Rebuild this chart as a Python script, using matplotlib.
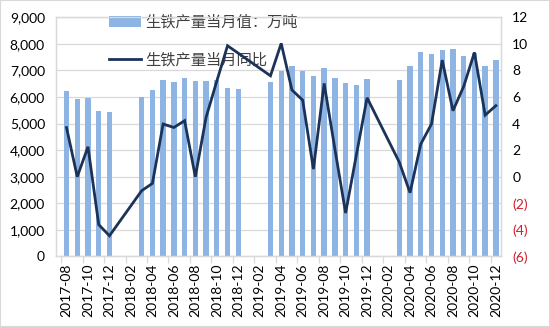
import numpy as np
import matplotlib.pyplot as plt
from matplotlib.patches import Rectangle

plt.rcParams['font.family'] = ['Lato', 'Noto Sans CJK SC', 'DejaVu Sans']

months = ['2017-08', '2017-09', '2017-10', '2017-11', '2017-12',
          '2018-01', '2018-02', '2018-03', '2018-04', '2018-05', '2018-06',
          '2018-07', '2018-08', '2018-09', '2018-10', '2018-11', '2018-12',
          '2019-01', '2019-02', '2019-03', '2019-04', '2019-05', '2019-06',
          '2019-07', '2019-08', '2019-09', '2019-10', '2019-11', '2019-12',
          '2020-01', '2020-02', '2020-03', '2020-04', '2020-05', '2020-06',
          '2020-07', '2020-08', '2020-09', '2020-10', '2020-11', '2020-12']

nan = np.nan
# 生铁产量当月值（万吨），1-2月无单月数据
output = [6214, 5914, 5977, 5462, 5435,
          nan, nan, 6010, 6278, 6654, 6566,
          6710, 6617, 6617, 6650, 6341, 6316,
          nan, nan, 6579, 6967, 7180, 6980,
          6800, 7085, 6717, 6535, 6435, 6679,
          nan, nan, 6660, 7180, 7688, 7635,
          7770, 7820, 7556, 7640, 7175, 7393]
# 生铁产量当月同比（%）
yoy = [3.7, 0.0, 2.26, -3.6, -4.44,
       nan, nan, -1.05, -0.5, 3.97, 3.71,
       4.22, 0.0, 4.47, 7.2, 9.86, 9.3,
       nan, nan, 7.6, 10.04, 6.53, 5.77,
       0.58, 7.03, 2.1, -2.73, 1.63, 5.95,
       nan, nan, 1.1, -1.2, 2.46, 3.97,
       8.78, 4.97, 6.8, 9.36, 4.64, 5.35]

x = np.arange(len(months))
output = np.array(output, dtype=float)
yoy = np.array(yoy, dtype=float)

fig = plt.figure(figsize=(5.5, 3.27), dpi=100)
ax = fig.add_axes([0.102, 0.2156, 0.809, 0.7314])
ax2 = ax.twinx()

grid_c = '#D9D9D9'
bars = ax.bar(x, output, width=0.5, color='#8EB4E3', zorder=2,
              label='生铁产量当月值：万吨')
ok = ~np.isnan(yoy)
line, = ax2.plot(x[ok], yoy[ok], color='#1B3358', lw=2.0, zorder=3,
                 label='生铁产量当月同比', solid_joinstyle='miter')

ax.set_xlim(-0.97, len(months) - 0.52)
ax.set_ylim(0, 9000)
ax.set_yticks(np.arange(0, 9001, 1000))
ax.set_yticklabels([f'{v:,}' for v in range(0, 9001, 1000)])
ax.yaxis.grid(True, color=grid_c, lw=0.9, zorder=0)
ax.set_axisbelow(True)

ax2.set_ylim(-6, 12)
rt = np.arange(-6, 13, 2)
ax2.set_yticks(rt)
ax2.set_yticklabels([f'({abs(v)})' if v < 0 else str(v) for v in rt])
for lab, v in zip(ax2.get_yticklabels(), rt):
    if v < 0:
        lab.set_color('#D0202E')

# category labels every two months, tick marks at the category boundaries
ax.set_xticks(x[::2] - 0.5)
ax.set_xticklabels([])
ax.set_xticks(x[::2], minor=True)
ax.set_xticklabels(months[::2], minor=True, rotation=90)
ax.tick_params(axis='x', which='major', length=5, color=grid_c, width=0.9)
ax.tick_params(axis='x', which='minor', length=0, pad=5, labelsize=10)
ax.tick_params(axis='y', length=0, labelsize=10, pad=8)
ax2.tick_params(axis='y', length=0, labelsize=10, pad=8)

for a in (ax, ax2):
    for s in a.spines.values():
        s.set_color(grid_c)
        s.set_linewidth(0.9)

leg = ax.legend(handles=[bars, line], loc='upper left',
                bbox_to_anchor=(0.105, 1.04), frameon=False,
                prop={'family': ['Noto Sans CJK SC'], 'size': 11},
                labelspacing=1.35, handlelength=2.1, handletextpad=0.3,
                borderaxespad=0)
for t in leg.get_texts():
    t.set_color('#404040')

fig.patches.append(Rectangle((0, 0), 1, 1, transform=fig.transFigure,
                             fill=False, edgecolor='#D9D9D9', lw=1.5))

fig.savefig('out.png', dpi=100)
